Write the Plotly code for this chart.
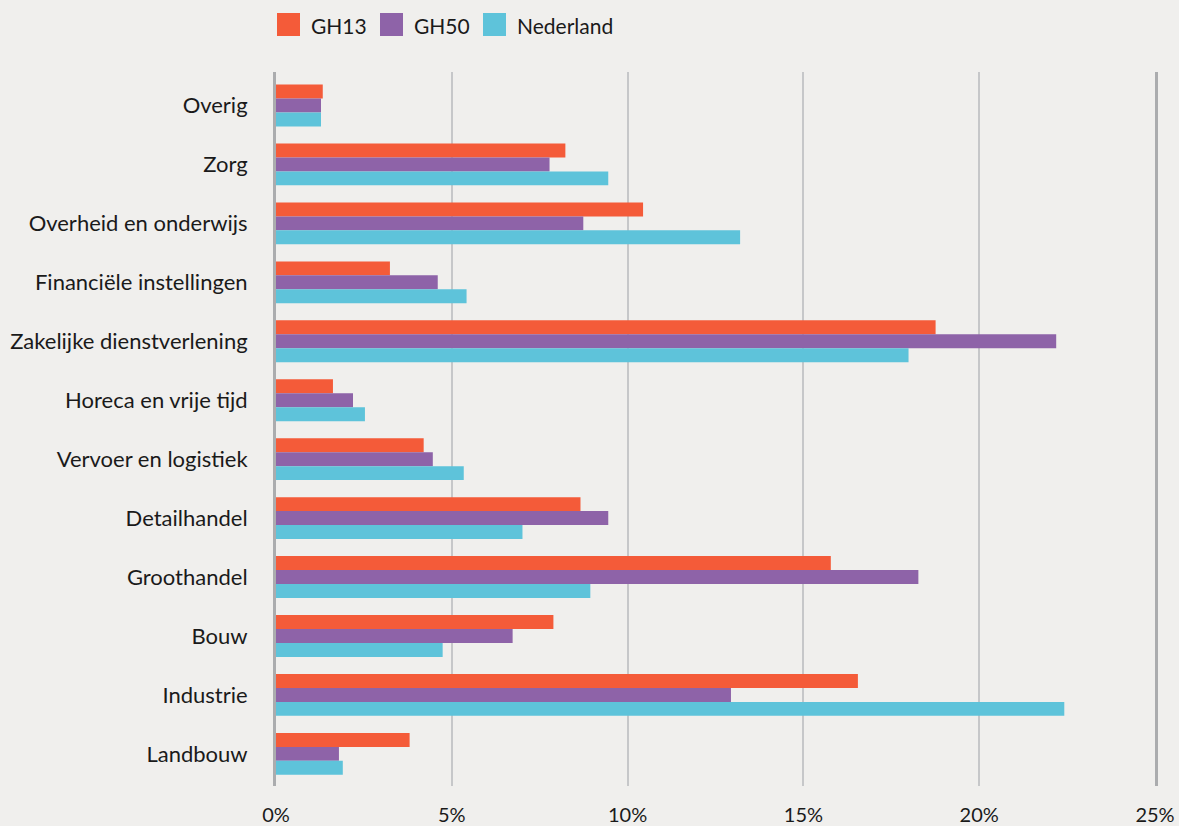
import plotly.graph_objects as go

categories = ["Overig", "Zorg", "Overheid en onderwijs", "Financiële instellingen",
              "Zakelijke dienstverlening", "Horeca en vrije tijd", "Vervoer en logistiek",
              "Detailhandel", "Groothandel", "Bouw", "Industrie", "Landbouw"]
gh13 = [1.33, 8.23, 10.44, 3.24, 18.76, 1.62, 4.20, 8.66, 15.78, 7.89, 16.55, 3.80]
gh50 = [1.28, 7.78, 8.74, 4.60, 22.19, 2.19, 4.46, 9.45, 18.27, 6.73, 12.94, 1.79]
nederland = [1.28, 9.45, 13.20, 5.42, 17.99, 2.53, 5.34, 7.01, 8.94, 4.74, 22.42, 1.90]

series_names = ["GH13", "GH50", "Nederland"]
series_values = [gh13, gh50, nederland]
series_colors = ["#F45B39", "#8E63A8", "#5EC3DA"]
x_ticks = [0, 5, 10, 15, 20, 25]
x_labels = ["0%", "5%", "10%", "15%", "20%", "25%"]

W, H = 1179, 826
ML, MR, MT, MB = 276, 24, 72, 40
PW, PH = W - ML - MR, H - MT - MB

def px(xp):
    return (xp - ML) / PW

def py(yp):
    return (H - MB - yp) / PH

font_family = "Lato, 'Open Sans', sans-serif"
fig = go.Figure()
for name, vals, col in zip(series_names, series_values, series_colors):
    fig.add_trace(go.Bar(y=categories, x=vals, name=name, orientation="h",
                         marker=dict(color=col, line=dict(width=0)), showlegend=False))

# manual legend (large square swatches like the reference)
legend_x = [277, 380, 483]
shapes = []
annotations = []
for lx, name, col in zip(legend_x, series_names, series_colors):
    shapes.append(dict(type="rect", xref="paper", yref="paper",
                       x0=px(lx), x1=px(lx + 23), y0=py(36), y1=py(13),
                       fillcolor=col, line=dict(width=0), layer="above"))
    annotations.append(dict(xref="paper", yref="paper", x=px(lx + 32), y=py(25),
                            text=name, showarrow=False, xanchor="left", yanchor="middle",
                            font=dict(size=21, family=font_family, color="#1a1a1a")))

fig.update_layout(
    width=W, height=H,
    paper_bgcolor="#F0EFED", plot_bgcolor="#F0EFED",
    barmode="group", bargap=0.29, bargroupgap=0,
    margin=dict(l=ML, r=MR, t=MT, b=MB, autoexpand=False),
    font=dict(family=font_family, size=21, color="#1a1a1a"),
    showlegend=False,
    shapes=shapes, annotations=annotations,
    xaxis=dict(range=[0, 25], tickvals=x_ticks, ticktext=x_labels,
               showgrid=True, gridcolor="#C6C7C9", gridwidth=2,
               zeroline=False, showline=False, ticks="",
               ticklabelstandoff=15, tickfont=dict(size=20)),
    yaxis=dict(range=[11.545, -0.568], showgrid=False, zeroline=False,
               showline=True, mirror=True, linecolor="#ABACAE", linewidth=3,
               ticks="", ticklabelstandoff=21, tickfont=dict(size=22)),
)

fig.write_html("out.html", config={"displayModeBar": False},
               post_script="document.body.style.margin='0';document.body.style.padding='0';")
